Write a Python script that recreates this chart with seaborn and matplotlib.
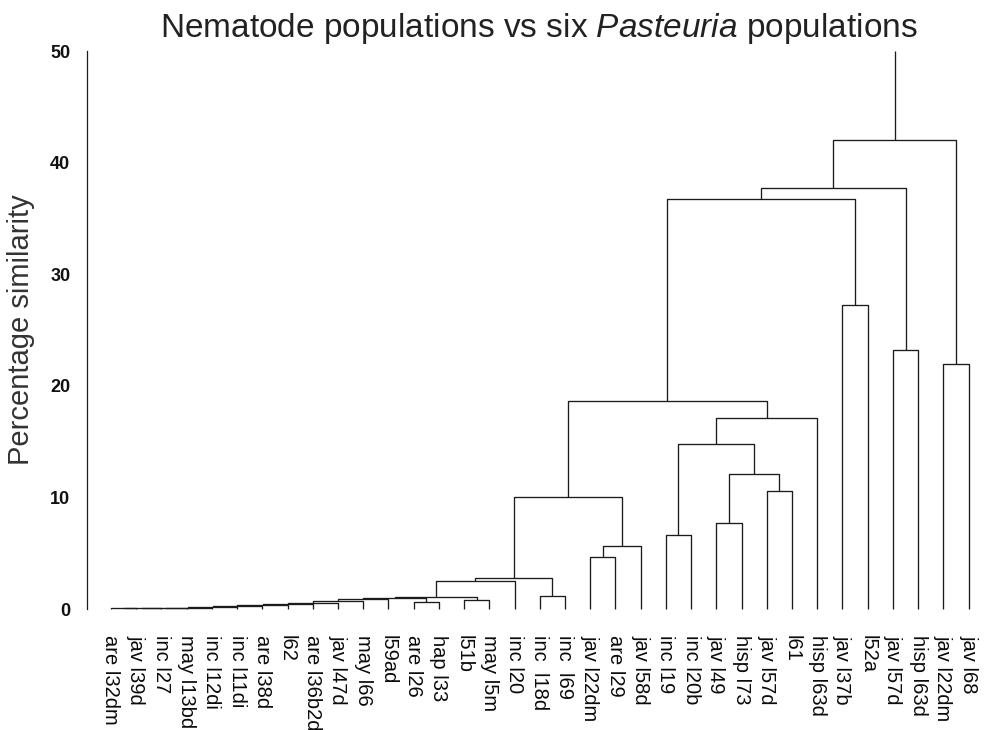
import matplotlib
matplotlib.use("Agg")
import matplotlib.pyplot as plt
import seaborn as sns

# ---- data -------------------------------------------------------------
leaf_labels = ["are l32dm", "jav l39d", "inc l27", "may l13bd", "inc l12di",
               "inc l11di", "are l38d", "l62", "are l36b2d", "jav l47d",
               "may l66", "l59ad", "are l26", "hap l33", "l51b", "may l5m",
               "inc l20", "inc  l18d", "inc  l69", "jav l22dm", "are l29",
               "jav l58d", "inc l19", "inc l20b", "jav l49", "hisp l73",
               "jav l57d", "l61", "hisp l63d", "jav l37b", "l52a", "jav l57d",
               "hisp l63d", "jav l22dm", "jav l68"]

# merges (scipy-style ids: leaves 0..34, new clusters numbered from 35)
merge_left = [0, 35, 36, 37, 38, 39, 40, 41, 42, 43, 44, 12, 14, 45, 48, 49,
              17, 50, 19, 53, 52, 22, 24, 26, 57, 56, 60, 55, 29, 62, 31, 64,
              33, 66]
merge_right = [1, 2, 3, 4, 5, 6, 7, 8, 9, 10, 11, 13, 15, 46, 47, 16,
               18, 51, 20, 21, 54, 23, 25, 27, 58, 59, 28, 61, 30, 63, 32, 65,
               34, 67]
merge_height = [0.10, 0.10, 0.11, 0.12, 0.20, 0.24, 0.36, 0.45, 0.56, 0.69,
                0.87, 0.60, 0.85, 1.00, 1.10, 2.55, 1.20, 2.80, 4.70, 5.65,
                10.0, 6.60, 7.75, 10.6, 12.1, 14.8, 17.15, 18.65, 27.2, 36.75,
                23.2, 37.75, 21.95, 42.0]
root_top = 50.0

# ---- style ------------------------------------------------------------
sns.set_style("white")
plt.rcParams["font.family"] = ["Liberation Sans", "DejaVu Sans"]
plt.rcParams["mathtext.fontset"] = "custom"
plt.rcParams["mathtext.rm"] = "Liberation Sans"
plt.rcParams["mathtext.it"] = "Liberation Sans:italic"

fig = plt.figure(figsize=(9.9, 7.3), dpi=100)
ax = fig.add_axes([87 / 990, 1 - 609 / 730, 1 - 87 / 990, (609 - 51) / 730])

n = len(leaf_labels)
xpos = {i: float(i) for i in range(n)}
hpos = {i: 0.0 for i in range(n)}
line_kw = dict(color="#1c1c1c", lw=0.95, clip_on=False, solid_capstyle="butt")
for k, (a, b, h) in enumerate(zip(merge_left, merge_right, merge_height)):
    xa, xb = xpos[a], xpos[b]
    ax.plot([xa, xa, xb, xb], [hpos[a], h, h, hpos[b]], **line_kw)
    cid = n + k
    xpos[cid] = (xa + xb) / 2
    hpos[cid] = h
root = n + len(merge_height) - 1
ax.plot([xpos[root], xpos[root]], [hpos[root], root_top], **line_kw)

ax.set_xlim(-0.95, 34.85)
ax.set_ylim(0, 50)
ax.set_xticks(range(n))
ax.set_xticklabels(leaf_labels, rotation=-90, fontsize=14.5, color="#0a0a0a",
                   va="top", ha="center")
ax.tick_params(axis="x", length=0, pad=19)
ax.set_yticks([0, 10, 20, 30, 40, 50])
ax.set_yticklabels(["0", "10", "20", "30", "40", "50"], fontsize=13,
                   fontweight="bold", color="#0a0a0a")
ax.tick_params(axis="y", direction="out", length=3, width=0.9, pad=9,
               colors="#111111")
for s in ["top", "right", "bottom"]:
    ax.spines[s].set_visible(False)
ax.spines["left"].set_color("#1c1c1c")
ax.spines["left"].set_linewidth(0.9)
ax.spines["left"].set_bounds(0, 50)

ax.set_ylabel("Percentage similarity", fontsize=21, color="#333333",
              labelpad=11)
ax.set_title("Nematode populations vs six $\\it{Pasteuria}$ populations",
             fontsize=24, color="#222222", pad=10)
ax.set_facecolor("white")
fig.savefig("out.png", dpi=100, facecolor="white")
